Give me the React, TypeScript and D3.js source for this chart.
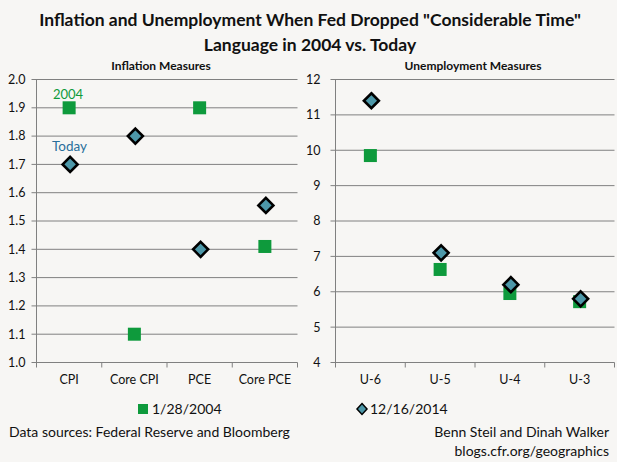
import React from "react";
import * as d3 from "d3";

const inflationCats = ["CPI", "Core CPI", "PCE", "Core PCE"];
const inflation2004 = [1.9, 1.1, 1.9, 1.41];
const inflationToday = [1.7, 1.8, 1.4, 1.555];
const inflationTicks = [1.0, 1.1, 1.2, 1.3, 1.4, 1.5, 1.6, 1.7, 1.8, 1.9, 2.0];

const unempCats = ["U-6", "U-5", "U-4", "U-3"];
const unemp2004 = [9.85, 6.63, 5.95, 5.72];
const unempToday = [11.4, 7.1, 6.2, 5.8];
const unempTicks = [4, 5, 6, 7, 8, 9, 10, 11, 12];

const GREEN = "#0e9a3c";
const TEAL = "#4d98a9";
const GRID = "#808080";
const FONT = "Lato, 'Open Sans', sans-serif";

type PanelProps = {
  title: string;
  titleX: number;
  labelGap: number;
  cats: string[];
  a: number[];
  b: number[];
  ticks: number[];
  domain: [number, number];
  x0: number;
  x1: number;
  fmt: (v: number) => string;
  children?: React.ReactNode;
};

function Diamond({ cx, cy, r }: { cx: number; cy: number; r: number }) {
  const p = `M${cx},${cy - r}L${cx + r},${cy}L${cx},${cy + r}L${cx - r},${cy}Z`;
  return <path d={p} fill={TEAL} stroke="#000" strokeWidth={2.6} strokeLinejoin="miter" />;
}

function Panel({ title, titleX, labelGap, cats, a, b, ticks, domain, x0, x1, fmt, children }: PanelProps) {
  const y = d3.scaleLinear().domain(domain).range([362.5, 79.5]);
  const x = d3.scaleBand().domain(cats).range([x0, x1]);
  const bw = x.bandwidth();
  const sq = 13;
  return (
    <g>
      <text x={titleX} y={70} textAnchor="middle" fontFamily={FONT} fontWeight="bold" fontSize={12} fill="#111">
        {title}
      </text>
      {ticks.map((t) => (
        <g key={t}>
          <line x1={x0 - 5} x2={x1} y1={y(t)} y2={y(t)} stroke={GRID} strokeWidth={1} />
          <text x={x0 - labelGap} y={y(t)} dy="0.35em" textAnchor="end" fontFamily={FONT} fontSize={12.5} fill="#111">
            {fmt(t)}
          </text>
        </g>
      ))}
      <line x1={x0} x2={x0} y1={y(domain[0])} y2={y(domain[1])} stroke={GRID} strokeWidth={1} />
      {cats.map((c, i) => (
        <line key={"t" + c} x1={x0 + i * bw} x2={x0 + i * bw} y1={y(domain[0])} y2={y(domain[0]) + 5} stroke={GRID} />
      ))}
      <line x1={x1} x2={x1} y1={y(domain[0])} y2={y(domain[0]) + 5} stroke={GRID} />
      {cats.map((c) => (
        <text key={"l" + c} x={x(c)! + bw / 2} y={384} textAnchor="middle" fontFamily={FONT} fontSize={12.5} fill="#111">
          {c}
        </text>
      ))}
      {cats.map((c, i) => (
        <rect key={"s" + c} x={x(c)! + bw / 2 - sq / 2} y={y(a[i]) - sq / 2} width={sq} height={sq} fill={GREEN} />
      ))}
      {cats.map((c, i) => (
        <Diamond key={"d" + c} cx={x(c)! + bw / 2 + 1} cy={y(b[i])} r={7.5} />
      ))}
      {children}
    </g>
  );
}

export default function App() {
  return (
    <svg width={617} height={462} style={{ position: "absolute", left: 0, top: 0 }}>
      <rect x={0} y={0} width={617} height={462} fill="#f7f6f4" />
      <text x={310} y={26} textAnchor="middle" fontFamily={FONT} fontWeight="bold" fontSize={17.5} fill="#111">
        Inflation and Unemployment When Fed Dropped "Considerable Time"
      </text>
      <text x={310} y={51} textAnchor="middle" fontFamily={FONT} fontWeight="bold" fontSize={17.5} fill="#111">
        Language in 2004 vs. Today
      </text>
      <Panel
        title="Inflation Measures"
        titleX={161}
        labelGap={11}
        cats={inflationCats}
        a={inflation2004}
        b={inflationToday}
        ticks={inflationTicks}
        domain={[1.0, 2.0]}
        x0={36.5}
        x1={297.5}
        fmt={d3.format(".1f")}
      >
        <text x={53} y={99} fontFamily={FONT} fontSize={13} fill={GREEN}>2004</text>
        <text x={52} y={151} fontFamily={FONT} fontSize={13.5} fill="#2a6f9b">Today</text>
      </Panel>
      <Panel
        title="Unemployment Measures"
        titleX={473}
        labelGap={15}
        cats={unempCats}
        a={unemp2004}
        b={unempToday}
        ticks={unempTicks}
        domain={[4, 12]}
        x0={335.5}
        x1={614.5}
        fmt={d3.format("d")}
      />
      <rect x={138} y={404} width={10} height={10} fill={GREEN} />
      <text x={152} y={414} fontFamily={FONT} fontSize={14} fill="#111">1/28/2004</text>
      <path d="M362,403.5L367,409L362,414.5L357,409Z" fill={TEAL} stroke="#000" strokeWidth={1.5} />
      <text x={370} y={414} fontFamily={FONT} fontSize={14} fill="#111">12/16/2014</text>
      <text x={9} y={437} fontFamily={FONT} fontSize={14} fill="#111">Data sources: Federal Reserve and Bloomberg</text>
      <text x={609} y={437} textAnchor="end" fontFamily={FONT} fontSize={14} fill="#111">Benn Steil and Dinah Walker</text>
      <text x={609} y={456} textAnchor="end" fontFamily={FONT} fontSize={14} fill="#111">blogs.cfr.org/geographics</text>
    </svg>
  );
}
